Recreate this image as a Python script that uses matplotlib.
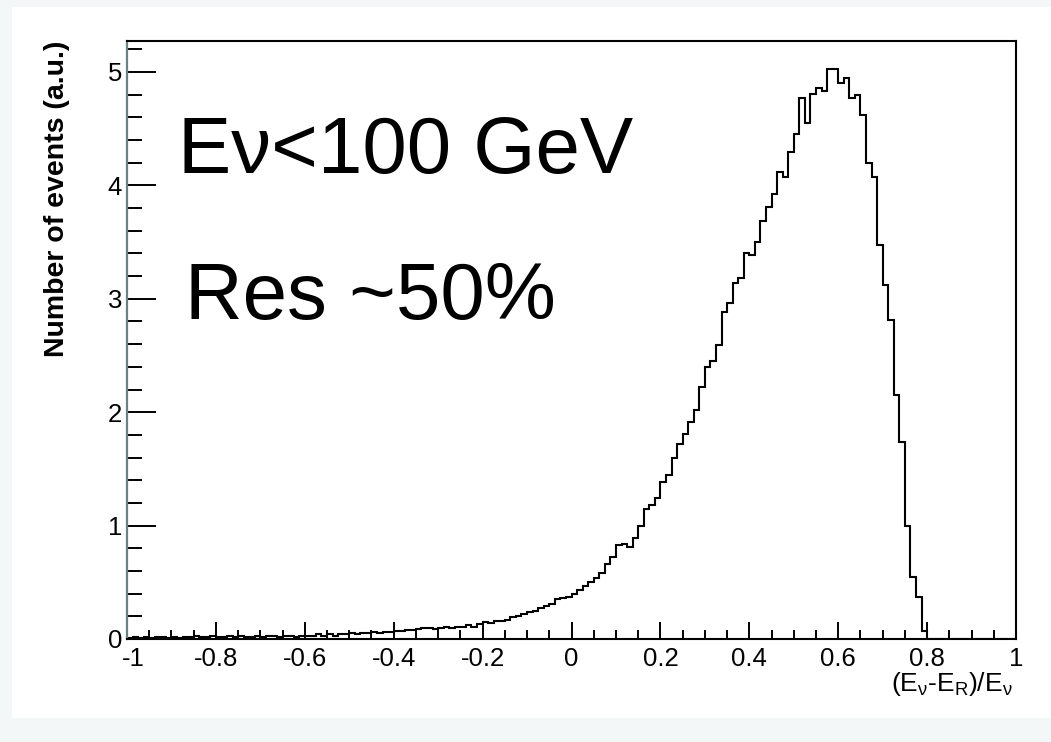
import numpy as np
import matplotlib
matplotlib.use("Agg")
import matplotlib.pyplot as plt
from matplotlib.patches import Rectangle
from matplotlib.ticker import MultipleLocator, FixedLocator
from matplotlib.transforms import ScaledTranslation

plt.rcParams['font.family'] = ['Liberation Sans', 'DejaVu Sans']
plt.rcParams['mathtext.fontset'] = 'custom'
plt.rcParams['mathtext.rm'] = 'Liberation Sans'
plt.rcParams['mathtext.it'] = 'Liberation Sans'
plt.rcParams['mathtext.default'] = 'rm'

# ---------------- data ----------------
x_min, x_max, n_bins = -1.0, 1.0, 160
counts_tail = [0.01, 0.02, 0.01, 0.02, 0.01, 0.02, 0.02, 0.01, 0.02, 0.01,
               0.02, 0.02, 0.03, 0.02, 0.02, 0.03, 0.02, 0.02, 0.03, 0.02,
               0.03, 0.02, 0.02, 0.03, 0.02, 0.03, 0.03, 0.02, 0.03, 0.03,
               0.02, 0.03, 0.03, 0.03, 0.04, 0.03, 0.04, 0.03, 0.04, 0.04,
               0.05, 0.04, 0.05, 0.05, 0.06, 0.05, 0.06, 0.06]
counts_rise = [0.07, 0.07, 0.08, 0.08, 0.09, 0.10, 0.10, 0.09, 0.10, 0.11,
               0.10, 0.11, 0.11, 0.12, 0.11, 0.13, 0.15, 0.14, 0.16, 0.16,
               0.17, 0.19, 0.20, 0.22, 0.24, 0.25, 0.27, 0.29, 0.31, 0.35,
               0.36, 0.37, 0.40, 0.43, 0.47, 0.50, 0.54, 0.58, 0.66, 0.72,
               0.83, 0.84, 0.81, 0.89, 1.00, 1.15, 1.18, 1.24, 1.38, 1.45,
               1.60, 1.72, 1.81, 1.91, 2.02, 2.22, 2.40, 2.45, 2.59, 2.88,
               2.96, 3.14, 3.18, 3.40, 3.39, 3.50, 3.69, 3.81, 3.92, 4.12,
               4.07, 4.29, 4.45]
counts_peak = [4.77, 4.55, 4.81, 4.86, 4.83, 5.03, 5.03, 4.90, 4.95, 4.77,
               4.80, 4.62, 4.20, 4.07, 3.47, 3.12, 2.81, 2.15, 1.74, 1.00,
               0.55, 0.37, 0.07]
counts_empty = [0.0] * 16
counts = np.array(counts_tail + counts_rise + counts_peak + counts_empty)

x_ticks = [-1, -0.8, -0.6, -0.4, -0.2, 0, 0.2, 0.4, 0.6, 0.8, 1]
x_tick_labels = ['-1', '-0.8', '-0.6', '-0.4', '-0.2', '0', '0.2', '0.4', '0.6', '0.8', '1']
y_ticks = [0, 1, 2, 3, 4, 5]
y_tick_labels = ['0', '1', '2', '3', '4', '5']

# ---------------- figure ----------------
W, H = 1051, 742
fig = plt.figure(figsize=(W / 100, H / 100), dpi=100, facecolor='#f3f7f7')
fig.add_artist(Rectangle((12 / W, (H - 718) / H), 1 - 12 / W, (718 - 7) / H,
                         transform=fig.transFigure, facecolor='white',
                         edgecolor='none', zorder=0))

ax_l, ax_r, ax_t, ax_b = 127, 1016, 41, 639
ax = fig.add_axes([ax_l / W, 1 - ax_b / H, (ax_r - ax_l) / W, (ax_b - ax_t) / H])
ax.set_facecolor('white')

edges = np.linspace(x_min, x_max, n_bins + 1)
ax.stairs(counts, edges, color='black', linewidth=1.5)

ax.set_xlim(-1, 1)
ax.set_ylim(0, 5.273)

for side in ['top', 'right', 'bottom']:
    ax.spines[side].set_color('black')
    ax.spines[side].set_linewidth(1.5)
ax.spines['left'].set_color('#6a8283')
ax.spines['left'].set_linewidth(1.6)

ax.xaxis.set_major_locator(FixedLocator(x_ticks))
ax.set_xticklabels(x_tick_labels)
ax.xaxis.set_minor_locator(MultipleLocator(0.05))
ax.yaxis.set_major_locator(FixedLocator(y_ticks))
ax.set_yticklabels(y_tick_labels)
ax.yaxis.set_minor_locator(MultipleLocator(0.2))

ax.tick_params(axis='x', which='major', direction='in', length=12.2, width=1.4,
               labelsize=18.5, pad=5.5, top=False)
ax.tick_params(axis='x', which='minor', direction='in', length=6.5, width=1.4, top=False)
ax.tick_params(axis='y', which='major', direction='in', length=21, width=1.4,
               labelsize=18.5, pad=3.5, right=False)
ax.tick_params(axis='y', which='minor', direction='in', length=10.8, width=1.4, right=False)

# nudge the first x tick label right so it clears the y "0" label (as in the reference)
first_lbl = ax.get_xticklabels()[0]
first_lbl.set_transform(first_lbl.get_transform() + ScaledTranslation(6 / 100, 0, fig.dpi_scale_trans))

ax.set_ylabel('Number of events (a.u.)', fontsize=20.5, fontweight='bold', loc='top')
ax.yaxis.set_label_coords((70 - ax_l) / (ax_r - ax_l), 1.0)

ax.set_xlabel(r'(E$_{\nu}$-E$_{R}$)/E$_{\nu}$', fontsize=19, loc='right')
ax.xaxis.set_label_coords((1013 - ax_l) / (ax_r - ax_l), (ax_b - 670) / (ax_b - ax_t))

ax.text((178 - ax_l) / (ax_r - ax_l), (ax_b - 173) / (ax_b - ax_t), 'Eν<100 GeV',
        transform=ax.transAxes, fontsize=57.5, ha='left', va='baseline')
ax.text((185 - ax_l) / (ax_r - ax_l), (ax_b - 319) / (ax_b - ax_t), 'Res ~50%',
        transform=ax.transAxes, fontsize=57.5, ha='left', va='baseline')

fig.savefig('out.png', dpi=100, facecolor=fig.get_facecolor())
